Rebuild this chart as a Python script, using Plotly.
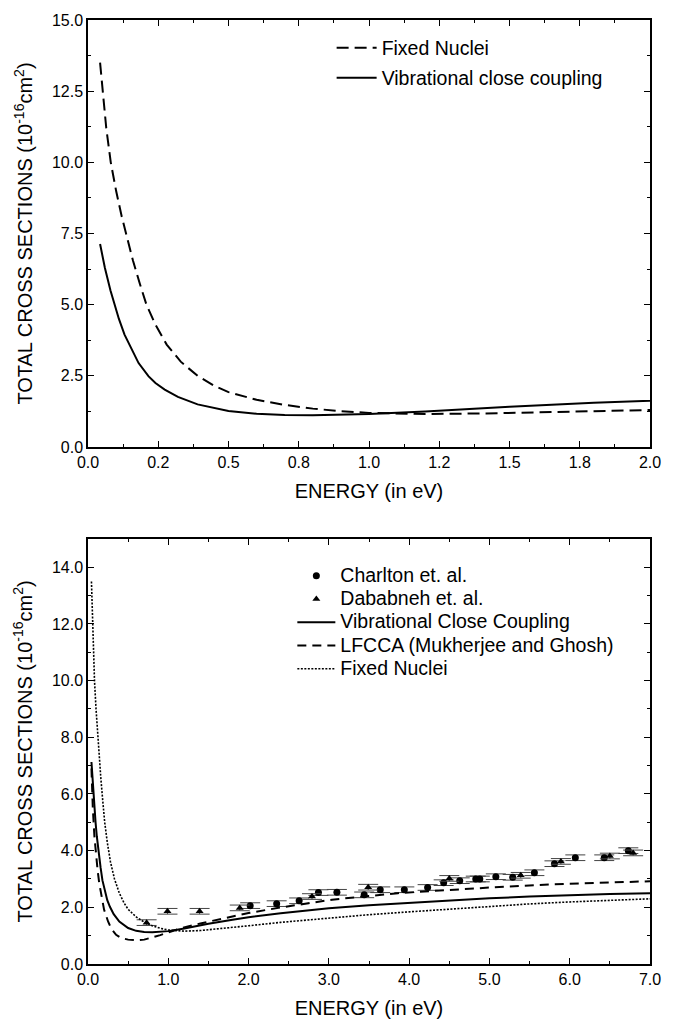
import plotly.graph_objects as go

# ---------------- data ----------------
# Fixed nuclei (theory)
fn_energy = [0.043, 0.052, 0.065, 0.081, 0.10, 0.12, 0.135, 0.16, 0.185, 0.208, 0.24, 0.28,
             0.33, 0.39, 0.45, 0.50, 0.60, 0.70, 0.80, 0.90, 1.00, 1.10, 1.20, 1.40, 1.60,
             1.80, 2.00, 2.40, 3.00, 3.50, 4.00, 4.60, 5.00, 5.50, 6.00, 6.50, 7.00]
fn_sigma = [13.5, 12.5, 11.2, 10.0, 9.0, 8.1, 7.5, 6.55, 5.72, 5.0, 4.3, 3.6,
            3.0, 2.5, 2.15, 1.93, 1.66, 1.48, 1.35, 1.26, 1.20, 1.17, 1.16, 1.18, 1.23,
            1.29, 1.35, 1.47, 1.63, 1.74, 1.84, 1.96, 2.04, 2.12, 2.19, 2.25, 2.30]

# Vibrational close coupling (theory)
vcc_energy = [0.043, 0.06, 0.08, 0.094, 0.11, 0.13, 0.157, 0.18, 0.215, 0.24, 0.273, 0.32,
              0.39, 0.45, 0.50, 0.60, 0.70, 0.80, 0.90, 1.00, 1.20, 1.50, 1.80, 2.00,
              2.40, 3.00, 3.50, 4.00, 4.60, 5.00, 5.50, 6.00, 6.50, 7.00]
vcc_sigma = [7.13, 6.3, 5.5, 5.0, 4.5, 3.95, 3.4, 2.95, 2.49, 2.25, 2.02, 1.76,
             1.5, 1.36, 1.27, 1.17, 1.13, 1.12, 1.13, 1.16, 1.25, 1.42, 1.56, 1.65,
             1.79, 1.97, 2.07, 2.16, 2.26, 2.32, 2.38, 2.43, 2.47, 2.50]

# LFCCA (Mukherjee and Ghosh)
lfcca_energy = [0.043, 0.05, 0.06, 0.08, 0.10, 0.12, 0.14, 0.17, 0.20, 0.25, 0.29, 0.35, 0.41,
                0.50, 0.60, 0.70, 0.82, 0.90, 0.98, 1.18, 1.40, 1.59, 2.00, 2.41, 3.04, 3.50,
                3.86, 4.30, 4.67, 5.20, 5.77, 6.40, 7.00]
lfcca_sigma = [6.9, 6.2, 5.5, 4.5, 3.8, 3.3, 2.85, 2.3, 1.92, 1.5, 1.25, 1.03, 0.92,
               0.86, 0.84, 0.86, 0.94, 1.02, 1.10, 1.28, 1.43, 1.55, 1.80, 2.00, 2.27, 2.40,
               2.50, 2.58, 2.65, 2.73, 2.81, 2.87, 2.92]

# Experiment: Charlton et al.
charlton_energy = [2.02, 2.35, 2.63, 2.87, 3.10, 3.44, 3.64, 3.94, 4.23, 4.43, 4.63, 4.83,
                   4.88, 5.08, 5.29, 5.56, 5.81, 6.07, 6.43, 6.73]
charlton_sigma = [2.06, 2.13, 2.23, 2.52, 2.53, 2.44, 2.62, 2.62, 2.70, 2.87, 2.94, 3.00,
                  3.00, 3.08, 3.06, 3.22, 3.54, 3.75, 3.75, 4.00]
charlton_err = [0.1] * len(charlton_energy)

# Experiment: Dababneh et al.
dababneh_energy = [0.73, 0.99, 1.39, 1.89, 2.79, 3.49, 4.50, 5.39, 5.89, 6.50, 6.79]
dababneh_sigma = [1.46, 1.86, 1.86, 1.98, 2.38, 2.71, 3.02, 3.13, 3.62, 3.81, 3.92]
dababneh_err = [0.1] * len(dababneh_energy)

# tick labels
top_xtickvals = [0, 0.25, 0.5, 0.75, 1.0, 1.25, 1.5, 1.75, 2.0]
top_xticktext = ["0.0", "0.2", "0.5", "0.8", "1.0", "1.2", "1.5", "1.8", "2.0"]
top_ytickvals = [0, 2.5, 5.0, 7.5, 10.0, 12.5, 15.0]
top_yticktext = ["0.0", "2.5", "5.0", "7.5", "10.0", "12.5", "15.0"]
bot_xtickvals = [0, 1, 2, 3, 4, 5, 6, 7]
bot_xticktext = ["0.0", "1.0", "2.0", "3.0", "4.0", "5.0", "6.0", "7.0"]
bot_ytickvals = [0, 2, 4, 6, 8, 10, 12, 14]
bot_yticktext = ["0.0", "2.0", "4.0", "6.0", "8.0", "10.0", "12.0", "14.0"]

FONT = "Liberation Sans, Arial, Helvetica, sans-serif"
LEGSIZE = 19.5


def leg2(t):
    # bigger text inside a tightly spaced legend (the reference uses tight line spacing)
    return f'<span style="font-size:{LEGSIZE}px">{t}</span>'


fig = go.Figure()

# ---- top panel ----
fig.add_trace(go.Scatter(x=fn_energy, y=fn_sigma, mode="lines", name="Fixed Nuclei",
                         line=dict(color="black", width=2, dash="12px,6px"),
                         xaxis="x", yaxis="y", legend="legend", legendgroup="a"))
fig.add_trace(go.Scatter(x=vcc_energy, y=vcc_sigma, mode="lines", name="Vibrational close coupling",
                         line=dict(color="black", width=2),
                         xaxis="x", yaxis="y", legend="legend", legendgroup="b"))

# ---- bottom panel ----
fig.add_trace(go.Scatter(x=charlton_energy, y=charlton_sigma, mode="markers", name=leg2("Charlton et. al."),
                         marker=dict(symbol="circle", size=7, color="black"),
                         error_y=dict(type="data", array=charlton_err, width=10, thickness=1, color="#444"),
                         xaxis="x2", yaxis="y2", legend="legend2"))
fig.add_trace(go.Scatter(x=dababneh_energy, y=dababneh_sigma, mode="markers", name=leg2("Dababneh et. al."),
                         marker=dict(symbol="triangle-up", size=7, color="black"),
                         error_y=dict(type="data", array=dababneh_err, width=10, thickness=1, color="#444"),
                         xaxis="x2", yaxis="y2", legend="legend2"))
fig.add_trace(go.Scatter(x=vcc_energy, y=vcc_sigma, mode="lines", name=leg2("Vibrational Close Coupling"),
                         line=dict(color="black", width=2),
                         xaxis="x2", yaxis="y2", legend="legend2"))
fig.add_trace(go.Scatter(x=lfcca_energy, y=lfcca_sigma, mode="lines", name=leg2("LFCCA (Mukherjee and Ghosh)"),
                         line=dict(color="black", width=2, dash="9px,6px"),
                         xaxis="x2", yaxis="y2", legend="legend2"))
fig.add_trace(go.Scatter(x=fn_energy, y=fn_sigma, mode="lines", name=leg2("Fixed Nuclei"),
                         line=dict(color="black", width=1.6, dash="2px,1.5px"),
                         xaxis="x2", yaxis="y2", legend="legend2"))

ytitle = "TOTAL CROSS SECTIONS (10<sup>-16</sup>cm<sup>2</sup>)"

axis_common = dict(showline=True, linewidth=1.5, linecolor="black", mirror="allticks",
                   ticks="inside", ticklen=6, tickwidth=1.2, tickcolor="black",
                   showgrid=False, zeroline=False,
                   tickfont=dict(family=FONT, size=16, color="black"))

fig.update_layout(
    width=673, height=1028,
    margin=dict(l=88, r=13, t=16, b=57),
    paper_bgcolor="white", plot_bgcolor="white",
    font=dict(family=FONT, color="black"),
    xaxis=dict(domain=[0, 1], anchor="y", range=[0, 2], tickmode="array",
               tickvals=top_xtickvals, ticktext=top_xticktext,
               minor=dict(tickmode="linear", tick0=0, dtick=0.125, ticks="inside", ticklen=3,
                          tickcolor="black", tickwidth=1),
               title=dict(text="ENERGY (in eV)", font=dict(size=20), standoff=14),
               **axis_common),
    yaxis=dict(domain=[0.5476, 1], anchor="x", range=[0, 15], tickmode="array",
               tickvals=top_ytickvals, ticktext=top_yticktext,
               minor=dict(tickmode="linear", tick0=0, dtick=1.25, ticks="inside", ticklen=3,
                          tickcolor="black", tickwidth=1),
               title=dict(text=ytitle, font=dict(size=20), standoff=14),
               **axis_common),
    xaxis2=dict(domain=[0, 1], anchor="y2", range=[0, 7], tickmode="array",
                tickvals=bot_xtickvals, ticktext=bot_xticktext,
                minor=dict(tickmode="linear", tick0=0, dtick=0.5, ticks="inside", ticklen=3,
                           tickcolor="black", tickwidth=1),
                title=dict(text="ENERGY (in eV)", font=dict(size=20), standoff=14),
                **axis_common),
    yaxis2=dict(domain=[0, 0.4503], anchor="x2", range=[0, 15], tickmode="array",
                tickvals=bot_ytickvals, ticktext=bot_yticktext,
                minor=dict(tickmode="linear", tick0=0, dtick=1, ticks="inside", ticklen=3,
                           tickcolor="black", tickwidth=1),
                title=dict(text=ytitle, font=dict(size=20), standoff=14),
                **axis_common),
    legend=dict(x=0.4335, y=0.9908, xanchor="left", yanchor="top", bgcolor="rgba(0,0,0,0)",
                borderwidth=0, itemwidth=40, traceorder="grouped", tracegroupgap=1.5,
                font=dict(family=FONT, size=LEGSIZE, color="black")),
    legend2=dict(x=0.3636, y=0.429, xanchor="left", yanchor="top", bgcolor="rgba(0,0,0,0)",
                 borderwidth=0, itemwidth=38, traceorder="normal",
                 font=dict(family=FONT, size=15.6, color="black")),
    showlegend=True,
)

fig.write_html("out.html")
